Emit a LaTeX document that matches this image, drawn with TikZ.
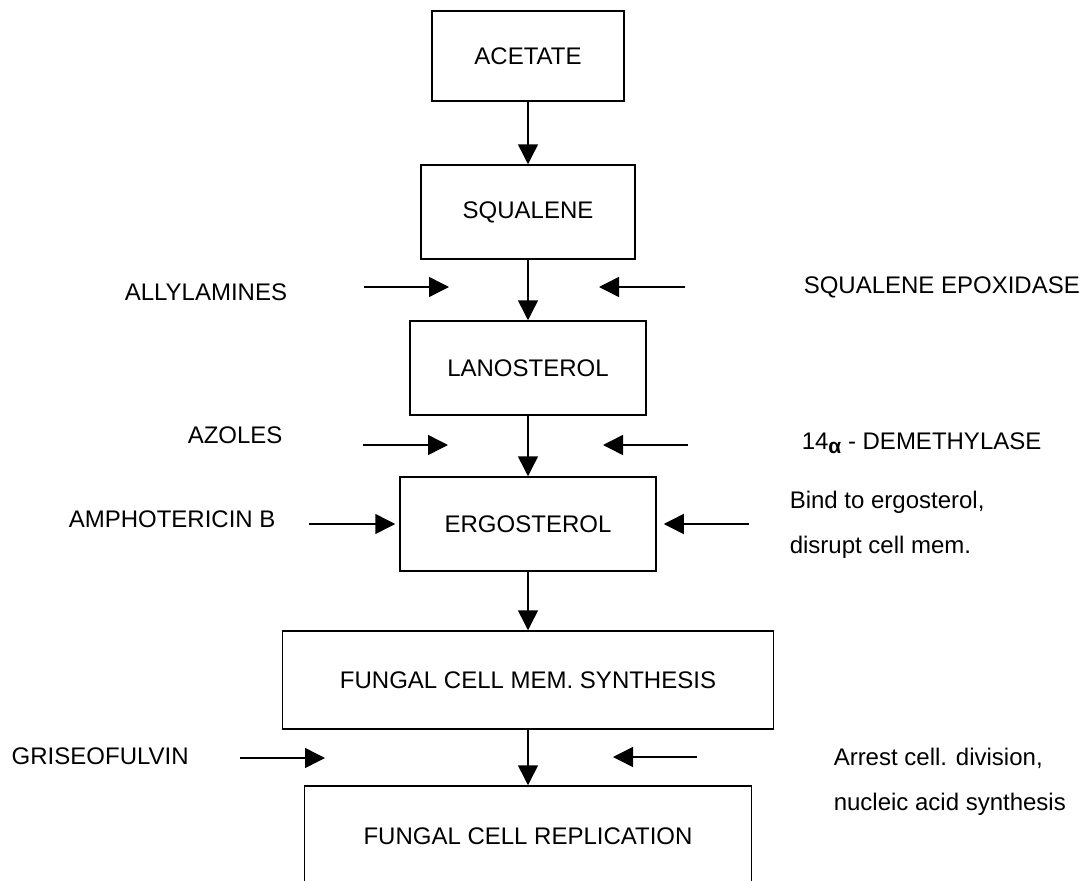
\documentclass[tikz,border=0pt]{standalone}
\usepackage{fontspec}
\setmainfont{Liberation Sans}
\usetikzlibrary{positioning,arrows.meta}

\begin{document}
\begin{tikzpicture}[
      x=1pt, y=-1pt,
      node distance=156pt,
      line width=1.5pt,
      >={Triangle[length=20pt,width=20pt]},
      font=\fontsize{24}{45}\selectfont,
      etape/.style={
        draw,
        rectangle,
        minimum height=94pt,
        inner sep=0pt
      },
      agent/.style={
        anchor=west,
        inner sep=0pt,
        align=left
      }
    ]
    \path[use as bounding box, clip] (0,0) rectangle (1088,881);
    \node[etape, minimum width=192pt, minimum height=90pt] (acetate) at (528,56) {ACETATE} ;
    \node[etape, minimum width=214pt, below of=acetate] (squalene) {SQUALENE} ;
    \node[etape, minimum width=236pt, below of=squalene] (lanosterol) {LANOSTEROL} ;
    \node[etape, minimum width=256pt, below of=lanosterol] (ergosterol) {ERGOSTEROL} ;
    \node[etape, minimum width=491pt, minimum height=98pt, below of=ergosterol] (membrane) {FUNGAL CELL MEM. SYNTHESIS} ;
    \node[etape, minimum width=447pt, minimum height=100pt, below of=membrane] (replication) {FUNGAL CELL REPLICATION} ;
    \draw[->] (acetate) -- (squalene);
    \draw[->] (squalene) -- (lanosterol);
    \draw[->] (lanosterol) -- (ergosterol);
    \draw[->] (ergosterol) -- (membrane);
    \draw[->] (membrane) -- (replication);
    \node[agent] (allylamines) at (124,292) {ALLYLAMINES} ;
    \node[agent] (epoxidase) at (803,287) {SQUALENE EPOXIDASE} ;
    \node[agent] (azoles) at (187,435) {AZOLES} ;
    \node[agent, anchor=base west] (demethylase) at (801,449) {14\raisebox{-4pt}{\fontsize{21}{21}\selectfont\bfseries α} - DEMETHYLASE} ;
    \node[agent] (amphotericine) at (68,519) {AMPHOTERICIN B} ;
    \node[agent] (bind) at (789,525) {Bind to ergosterol,\\disrupt cell mem.} ;
    \node[agent] (griseofulvine) at (11,756) {GRISEOFULVIN} ;
    \node[agent] (arret) at (833,782) {Arrest cell. division,\\nucleic acid synthesis} ;
    \coordinate (allyD) at (364,287);
    \coordinate (allyF) at (449,287);
    \coordinate (epoxD) at (685,287);
    \coordinate (epoxF) at (599,287);
    \coordinate (azoD) at (363,445);
    \coordinate (azoF) at (448,445);
    \coordinate (demD) at (688,445);
    \coordinate (demF) at (603,445);
    \coordinate[left=90pt of ergosterol.west] (amphoD);
    \coordinate[right=92pt of ergosterol.east] (bindD);
    \coordinate (griseoD) at (240,758);
    \coordinate (griseoF) at (325,758);
    \coordinate (arretD) at (697,757);
    \coordinate (arretF) at (613,757);
    \draw[->] (allyD) -- (allyF);
    \draw[->] (epoxD) -- (epoxF);
    \draw[->] (azoD) -- (azoF);
    \draw[->] (demD) -- (demF);
    \draw[->, shorten >=4pt] (amphoD) -- (ergosterol.west);
    \draw[->, shorten >=7pt] (bindD) -- (ergosterol.east);
    \draw[->] (griseoD) -- (griseoF);
    \draw[->] (arretD) -- (arretF);
  \end{tikzpicture}
\end{document}
